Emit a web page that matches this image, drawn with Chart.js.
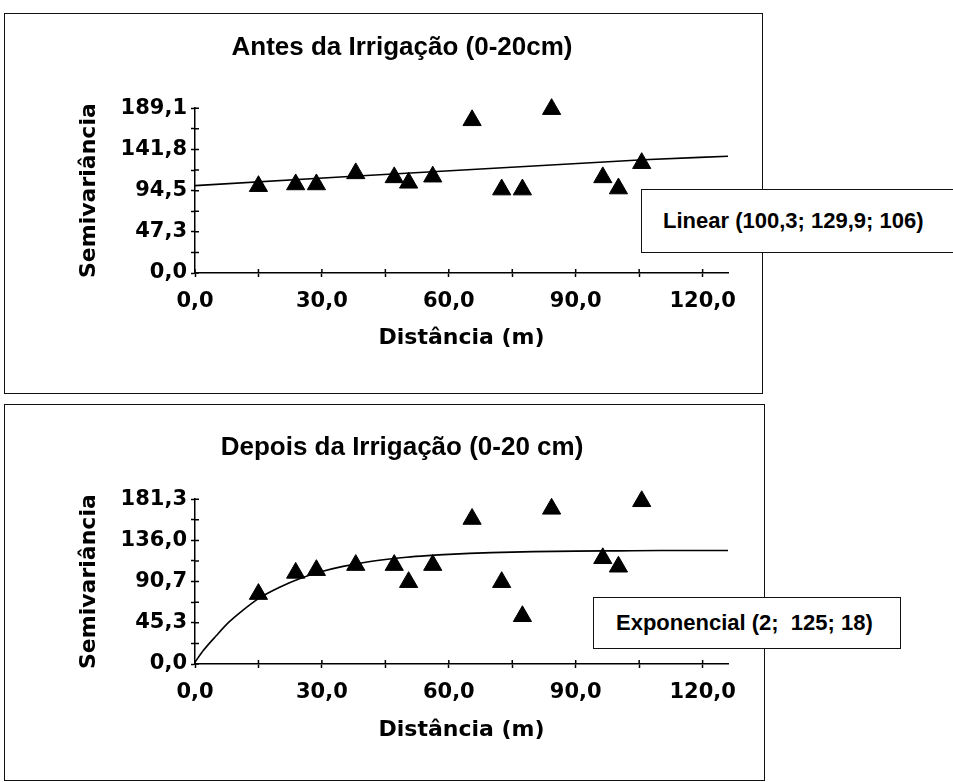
<!DOCTYPE html>
<html lang="pt">
<head>
<meta charset="utf-8">
<title>Semivariogramas</title>
<script src="https://cdn.jsdelivr.net/npm/chart.js@4.4.1/dist/chart.umd.min.js"></script>
<style>
  html, body { margin: 0; padding: 0; background: #fff; }
  body { width: 953px; height: 782px; position: relative; overflow: hidden; }
  .frame { position: absolute; border: 1.5px solid #111; box-sizing: border-box; }
  .panel { position: absolute; left: 0; width: 953px; }
  .model {
    position: absolute; background: #fff; border: 1.5px solid #111; box-sizing: border-box;
    font: bold 22px "Liberation Sans", Arial, sans-serif; color: #000;
    display: flex; align-items: center; white-space: pre;
  }
</style>
</head>
<body>
<div class="frame" style="left:4px; top:13px; width:759px; height:381px;"></div>
<div class="frame" style="left:4px; top:404px; width:761px; height:377px;"></div>

<div class="panel" style="top:0; height:400px;"><canvas id="antes" width="953" height="400"></canvas></div>
<div class="panel" style="top:400px; height:382px;"><canvas id="depois" width="953" height="382"></canvas></div>

<div class="model" style="left:641px; top:189px; width:330px; height:64px; padding-left:21px;">Linear (100,3; 129,9; 106)</div>
<div class="model" style="left:593px; top:597px; width:308px; height:52px; padding-left:22px;">Exponencial (2;  125; 18)</div>

<script>
// Lag distances (m) of the experimental semivariogram, same classes for both samplings
const lagDistance = [15.0, 23.8, 28.7, 38.0, 47.1, 50.5, 56.2, 65.5, 72.5, 77.4, 84.3, 96.4, 100.1, 105.6];

// Experimental semivariance, before irrigation (0-20 cm)
const gammaAntes = [99.6, 101.6, 101.6, 114.3, 109.7, 103.5, 110.5, 175.2, 95.7, 95.7, 188.0, 109.7, 96.9, 126.0];
// Experimental semivariance, after irrigation (0-20 cm)
const gammaDepois = [76.9, 100.2, 103.2, 108.8, 108.8, 90.0, 108.8, 159.5, 90.0, 52.5, 170.7, 116.3, 107.0, 179.0];

// Fitted linear model (C0 = 100,3 ; C0+C = 129,9 ; A = 106)
const linearDist = [0, 106, 126];
const linearGamma = [100.3, 129.9, 134.0];

// Fitted exponential model (C0 = 2 ; C0+C = 125 ; A = 18)
const expDist = [0, 2, 5, 8, 11, 15, 20, 25, 30, 35, 40, 45, 50, 55, 60, 70, 80, 90, 100, 110, 126];
const expGamma = [2, 15, 31, 46, 58, 72, 84.5, 94.4, 101.8, 107.4, 111.7, 114.9, 117.4, 119.2, 120.6, 122.5, 123.6, 124.2, 124.5, 124.8, 124.9];

// Axis ticks and their labels
const xTickValues = [0, 30, 60, 90, 120];
const xTickLabels = ['0,0', '30,0', '60,0', '90,0', '120,0'];
const yTickAntes = [0, 47.3, 94.5, 141.8, 189.1];
const yLabelAntes = ['0,0', '47,3', '94,5', '141,8', '189,1'];
const yTickDepois = [0, 45.3, 90.7, 136.0, 181.3];
const yLabelDepois = ['0,0', '45,3', '90,7', '136,0', '181,3'];

const titleAntes = 'Antes da Irrigação (0-20cm)';
const titleDepois = 'Depois da Irrigação (0-20 cm)';
const xTitle = 'Distância (m)';
const yTitle = 'Semivariância';

const tickFont = { family: '"DejaVu Sans", Verdana, sans-serif', size: 21, weight: 'bold' };
const axisTitleFont = { family: '"DejaVu Sans", Verdana, sans-serif', size: 22, weight: 'bold' };
const chartTitleFont = { family: '"Liberation Sans", Arial, sans-serif', size: 26, weight: 'bold' };

// major ticks plus a minor tick half-way between each pair
function withMinor(major) {
  const out = [];
  major.forEach((v, i) => {
    out.push(v);
    if (i < major.length - 1) out.push((v + major[i + 1]) / 2);
  });
  return out;
}

// short tick marks on the inner side of both axes, so ticks cross the axis line
const crossTicks = {
  id: 'crossTicks',
  afterDraw(chart) {
    const { ctx, chartArea, scales } = chart;
    ctx.save();
    ctx.strokeStyle = '#000';
    ctx.lineWidth = 1.5;
    ctx.beginPath();
    scales.x.ticks.forEach(t => {
      const px = scales.x.getPixelForValue(t.value);
      ctx.moveTo(px, chartArea.bottom);
      ctx.lineTo(px, chartArea.bottom - 4);
    });
    scales.y.ticks.forEach(t => {
      const py = scales.y.getPixelForValue(t.value);
      ctx.moveTo(chartArea.left, py);
      ctx.lineTo(chartArea.left + 4, py);
    });
    ctx.stroke();
    ctx.restore();
  }
};

function makeChart(id, title, gamma, modelX, modelY, yMax, yTicks, yLabels, layout) {
  const points = lagDistance.map((d, i) => ({ x: d, y: gamma[i] }));
  const model = modelX.map((d, i) => ({ x: d, y: modelY[i] }));
  return new Chart(document.getElementById(id), {
    type: 'scatter',
    data: {
      datasets: [
        {
          type: 'line',
          data: model,
          borderColor: '#000',
          borderWidth: 1.6,
          pointRadius: 0,
          cubicInterpolationMode: 'monotone',
          fill: false,
          clip: false
        },
        {
          data: points,
          pointStyle: 'triangle',
          pointRadius: 10.5,
          pointHoverRadius: 10.5,
          backgroundColor: '#000',
          borderColor: '#000',
          borderWidth: 1,
          clip: false
        }
      ]
    },
    options: {
      responsive: false,
      animation: false,
      events: [],
      layout: { padding: { left: 76, right: 225, top: 0, bottom: layout.bottomPad } },
      plugins: {
        legend: { display: false },
        tooltip: { enabled: false },
        title: {
          display: true,
          text: title,
          color: '#000',
          font: chartTitleFont,
          padding: { top: layout.titleTop, bottom: layout.titleBottom }
        }
      },
      scales: {
        x: {
          type: 'linear',
          min: 0,
          max: 126,
          afterBuildTicks: s => { s.ticks = withMinor(xTickValues).map(v => ({ value: v })); },
          afterFit: s => { s.height = layout.xHeight; },
          border: { display: true, color: '#000', width: 1.5 },
          grid: { drawOnChartArea: false, drawTicks: true, tickLength: 4, tickColor: '#000', tickWidth: 1.5 },
          ticks: {
            autoSkip: false, maxRotation: 0, padding: 12, color: '#000', font: tickFont,
            callback: v => { const i = xTickValues.indexOf(v); return i >= 0 ? xTickLabels[i] : ''; }
          },
          title: { display: true, text: xTitle, color: '#000', font: axisTitleFont, padding: { top: 0, bottom: 0 } }
        },
        y: {
          type: 'linear',
          min: 0,
          max: yMax,
          afterBuildTicks: s => { s.ticks = withMinor(yTicks).map(v => ({ value: v })); },
          afterFit: s => { s.width = 119; },
          border: { display: true, color: '#000', width: 1.5 },
          grid: { drawOnChartArea: false, drawTicks: true, tickLength: 4, tickColor: '#000', tickWidth: 1.5 },
          ticks: {
            autoSkip: false, padding: 4, color: '#000', font: tickFont,
            callback: v => { const i = yTicks.indexOf(v); return i >= 0 ? yLabels[i] : ''; }
          },
          title: { display: true, text: yTitle, color: '#000', font: axisTitleFont, padding: { top: 0, bottom: 0 } }
        }
      }
    },
    plugins: [crossTicks]
  });
}

makeChart('antes', titleAntes, gammaAntes, linearDist, linearGamma, 189.1, yTickAntes, yLabelAntes,
  { titleTop: 32, titleBottom: 45, xHeight: 78, bottomPad: 49 });
makeChart('depois', titleDepois, gammaDepois, expDist, expGamma, 181.3, yTickDepois, yLabelDepois,
  { titleTop: 32, titleBottom: 36, xHeight: 79, bottomPad: 39 });
</script>
</body>
</html>
